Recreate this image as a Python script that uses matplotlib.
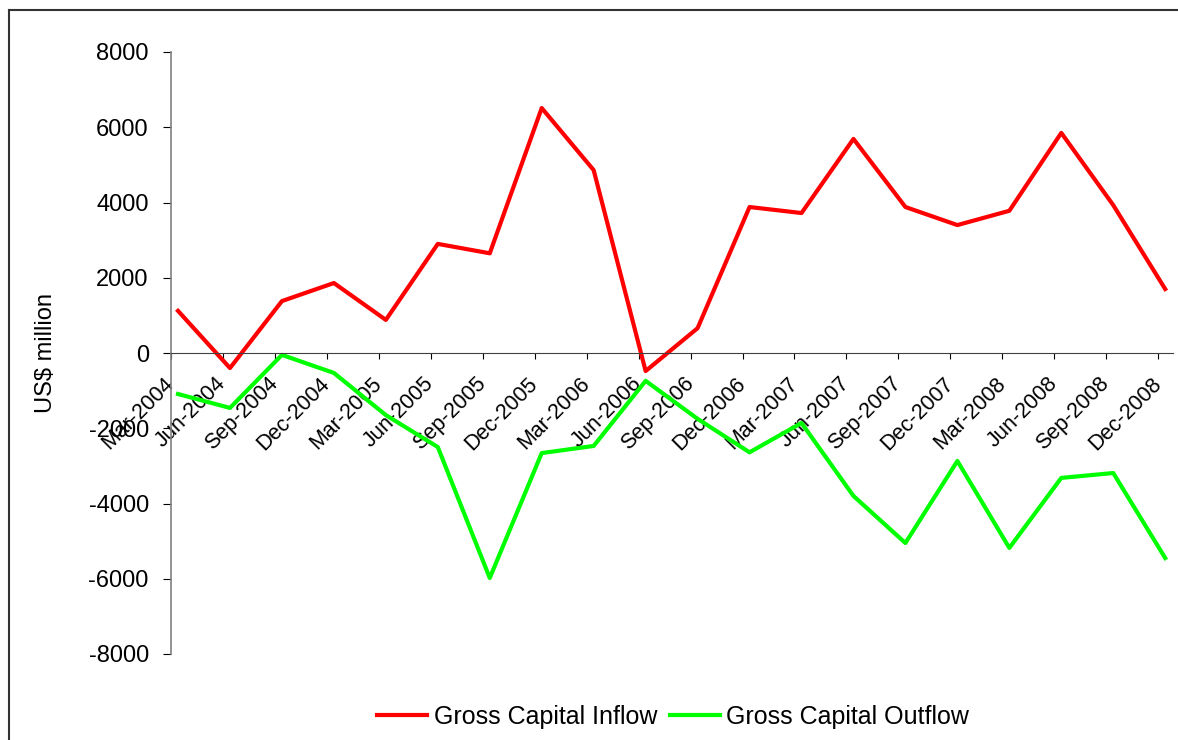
import matplotlib.pyplot as plt
from matplotlib.lines import Line2D

# quarterly data, US$ million
quarters = ['Mar-2004', 'Jun-2004', 'Sep-2004', 'Dec-2004',
            'Mar-2005', 'Jun-2005', 'Sep-2005', 'Dec-2005',
            'Mar-2006', 'Jun-2006', 'Sep-2006', 'Dec-2006',
            'Mar-2007', 'Jun-2007', 'Sep-2007', 'Dec-2007',
            'Mar-2008', 'Jun-2008', 'Sep-2008', 'Dec-2008']
inflow = [1120, -400, 1380, 1860, 880, 2900, 2650, 6510, 4860, -480,
          660, 3880, 3720, 5690, 3880, 3400, 3780, 5850, 3930, 1700]
outflow = [-1090, -1460, -50, -530, -1650, -2500, -5980, -2660, -2470, -740,
           -1750, -2640, -1860, -3800, -5050, -2870, -5180, -3320, -3190, -5450]
yticks = list(range(-8000, 8001, 2000))

plt.rcParams['font.family'] = ['Liberation Sans', 'DejaVu Sans']
plt.rcParams['axes.unicode_minus'] = False

W, H = 1178, 740
fig = plt.figure(figsize=(W / 100, H / 100), dpi=100)
ax = fig.add_axes([171 / W, 86 / H, 1002 / W, 602 / H])

xs = list(range(len(quarters)))
ax.plot(xs, inflow, color='#ff0000', lw=3, label='Gross Capital Inflow')
ax.plot(xs, outflow, color='#00ff00', lw=3, label='Gross Capital Outflow')

# spines first: moving a spine resets the ticks
ax.spines['top'].set_visible(False)
ax.spines['right'].set_visible(False)
ax.spines['bottom'].set_position(('data', 0))
ax.spines['bottom'].set_color('#404040')
ax.spines['left'].set_color('#808080')
ax.spines['left'].set_linewidth(1.2)

ax.set_xlim(-0.135, 19.15)
ax.set_ylim(-8000, 8000)
ax.set_yticks(yticks)

# category ticks sit slightly left of the points, as in the original
ax.set_xticks([x - 0.135 for x in xs])
ax.set_xticklabels(quarters, rotation=45, ha='right', va='center',
                   rotation_mode='anchor')

ax.tick_params(axis='x', length=4, pad=16, labelsize=15.5)
ax.tick_params(axis='y', length=6, pad=10, labelsize=17)

ax.set_ylabel('US$ million', fontsize=17)
ax.yaxis.set_label_coords((57 - 171) / 1002, 0.5)

fig.legend(loc='center', bbox_to_anchor=(673 / W, 1 - 717 / H), ncol=2,
           frameon=False, fontsize=18, handlelength=2.0,
           handletextpad=0.25, columnspacing=0.5)

# outer chart border (left and top edges visible)
fig.add_artist(Line2D([9 / W, 9 / W], [0, 1 - 10 / H],
                      transform=fig.transFigure, color='#333333', lw=1.5))
fig.add_artist(Line2D([9 / W, 1], [1 - 10 / H, 1 - 10 / H],
                      transform=fig.transFigure, color='#333333', lw=1.5))

fig.savefig('out.png', dpi=100)
